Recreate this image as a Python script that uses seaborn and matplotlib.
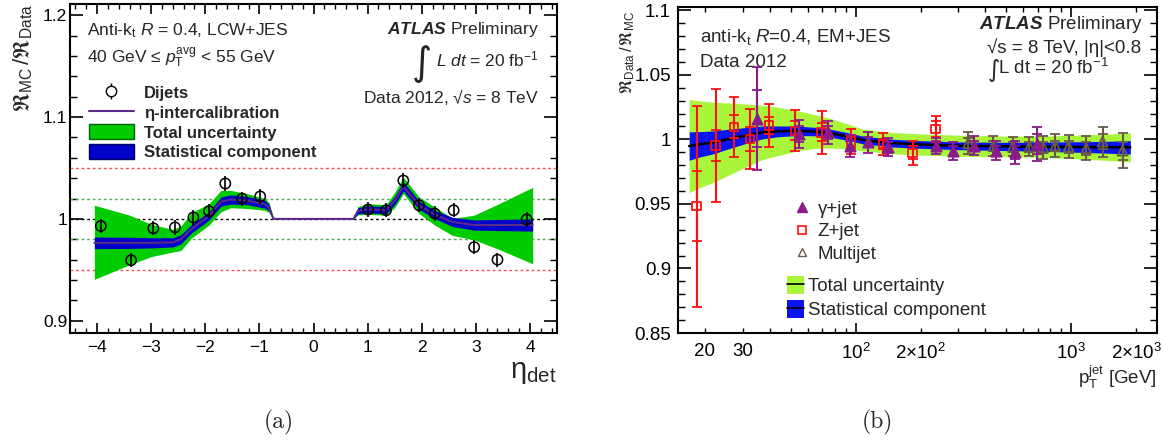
import numpy as np
import pandas as pd
import matplotlib
matplotlib.use('Agg')
import matplotlib.pyplot as plt
import seaborn as sns
from matplotlib.lines import Line2D
from matplotlib.patches import Patch
from matplotlib.legend_handler import HandlerTuple
from matplotlib.ticker import MultipleLocator

# ---------------- Panel (a) data ----------------
eta_curve = [-4.05, -3.4, -3.0, -2.6, -2.45, -2.26, -1.93, -1.71, -1.53, -1.22, -0.9, -0.82, -0.74,
             0.74, 0.82, 1.0, 1.34, 1.5, 1.66, 1.95, 2.24, 2.57, 2.97, 3.43, 4.05]
intercal = [0.9765, 0.9765, 0.9765, 0.977, 0.980, 0.990, 1.003, 1.017, 1.019, 1.018, 1.0145, 1.011, 1.0,
            1.0, 1.008, 1.0095, 1.0085, 1.018, 1.032, 1.0134, 1.0044, 0.997, 0.994, 0.994, 0.994]
tot_hi_a = [1.0134, 1.0037, 0.9947, 0.9898, 0.993, 1.006, 1.015, 1.028, 1.028, 1.0248, 1.020, 1.016, 1.0,
            1.0, 1.012, 1.015, 1.014, 1.026, 1.041, 1.0215, 1.0118, 1.0005, 1.0037, 1.015, 1.031]
tot_lo_a = [0.9406, 0.955, 0.963, 0.9675, 0.969, 0.981, 0.994, 1.007, 1.011, 1.0102, 1.0085, 1.006, 1.0,
            1.0, 1.004, 1.0044, 1.0037, 1.011, 1.0248, 1.0053, 0.994, 0.9837, 0.9795, 0.970, 0.956]
stat_a = [0.0057, 0.0055, 0.005, 0.0045, 0.0045, 0.004, 0.004, 0.0045, 0.0045, 0.004, 0.004, 0.003, 0.0,
          0.0, 0.003, 0.0035, 0.0035, 0.004, 0.0045, 0.004, 0.004, 0.0045, 0.005, 0.0055, 0.006]

dijet_eta = [-3.93, -3.37, -2.96, -2.56, -2.22, -1.93, -1.63, -1.32, -0.985,
             1.01, 1.34, 1.66, 1.95, 2.24, 2.59, 2.97, 3.40, 3.94]
dijet_val = [0.993, 0.9594, 0.9908, 0.9917, 1.0015, 1.0076, 1.0348, 1.0199, 1.0221,
             1.0092, 1.0085, 1.0377, 1.0134, 1.0053, 1.0085, 0.9723, 0.960, 0.9995]
dijet_err = [0.007] * 18

# ---------------- Panel (b) data ----------------
pt_band = [16.9, 19, 22, 25, 30, 37, 44, 54, 65, 76, 90, 108, 150, 200, 300, 500, 700, 1000, 1400, 1880]
band_center = [0.9948, 0.9962, 0.9977, 0.9998, 1.0025, 1.0054, 1.0062, 1.0066, 1.0060, 1.0048, 1.0025,
               0.9995, 0.9970, 0.9960, 0.9950, 0.9945, 0.9943, 0.9941, 0.9939, 0.9938]
band_tot = [0.036, 0.0335, 0.031, 0.0285, 0.025, 0.021, 0.0186, 0.0155, 0.013, 0.0115, 0.0098, 0.0085,
            0.0082, 0.0082, 0.0082, 0.0080, 0.0082, 0.0090, 0.0100, 0.0113]
band_stat = [0.011, 0.0098, 0.0088, 0.0078, 0.0064, 0.005, 0.0042, 0.0036, 0.0033, 0.0031, 0.003, 0.003,
             0.003, 0.003, 0.003, 0.0032, 0.0035, 0.004, 0.0045, 0.0052]

zjet_pt = [18.3, 22.4, 27.3, 32.3, 39.7, 52.3, 69.5, 95.1, 134.4, 184, 235]
zjet_val = [0.9482, 0.9951, 1.0097, 1.0002, 1.0105, 1.0066, 1.0054, 0.9985, 0.9964, 0.9895, 1.0079]
zjet_stat = [0.027, 0.012, 0.009, 0.009, 0.0065, 0.0075, 0.007, 0.005, 0.004, 0.005, 0.006]
zjet_tot = [0.078, 0.044, 0.023, 0.023, 0.0165, 0.016, 0.0165, 0.0096, 0.0085, 0.0095, 0.010]

gjet_pt = [34.9, 54.6, 74.6, 94, 114.4, 141.7, 236, 284, 354, 448, 550, 693]
gjet_val = [1.016, 1.0041, 1.0054, 0.995, 0.9977, 0.9938, 0.995, 0.9908, 0.995, 0.9912, 0.990, 0.9964]
gjet_stat = [0.022, 0.006, 0.005, 0.004, 0.004, 0.004, 0.004, 0.004, 0.004, 0.004, 0.005, 0.008]
gjet_tot = [0.040, 0.011, 0.009, 0.0085, 0.008, 0.007, 0.006, 0.007, 0.0073, 0.0073, 0.009, 0.013]

mj_pt = [333, 436, 536, 640, 742, 843, 972, 1174, 1398, 1730]
mj_val = [0.9972, 0.995, 0.9943, 0.9943, 0.9938, 0.995, 0.9943, 0.9931, 0.9982, 0.9912]
mj_stat = [0.004, 0.004, 0.004, 0.004, 0.004, 0.004, 0.0045, 0.005, 0.006, 0.007]
mj_tot = [0.0083, 0.0077, 0.0073, 0.0073, 0.0087, 0.009, 0.009, 0.0092, 0.0115, 0.0135]

# ---------------- style ----------------
sns.set_theme(style='ticks')
plt.rcParams['font.family'] = ['Liberation Sans', 'DejaVu Sans']
plt.rcParams['mathtext.fontset'] = 'custom'
plt.rcParams['mathtext.rm'] = 'Liberation Sans'
plt.rcParams['mathtext.it'] = 'Liberation Sans:italic'
plt.rcParams['mathtext.bf'] = 'Liberation Sans:bold'
plt.rcParams['mathtext.bfit'] = 'Liberation Sans:italic:bold'
plt.rcParams['mathtext.fallback'] = 'stix'
plt.rcParams['axes.linewidth'] = 1.5
plt.rcParams['axes.edgecolor'] = 'black'

GREEN_A = '#00cc00'
BLUE_A = '#0000c8'
PURPLE_LINE = '#5a2a8c'
GREEN_B = '#a8f53a'
BLUE_B = '#0a14f0'
GJET_C = '#8b1a8b'
ZJET_C = '#ff1010'
MJ_C = '#6b5a48'

fig = plt.figure(figsize=(11.64, 4.42), dpi=100)
axA = fig.add_axes([70 / 1164, 1 - 333 / 442, 487 / 1164, 329 / 442])
axB = fig.add_axes([678 / 1164, 1 - 333 / 442, 479 / 1164, 326 / 442])

# ================= Panel (a) =================
ax = axA
ea = np.array(eta_curve)
ca = np.array(intercal)
sa = np.array(stat_a)
ax.fill_between(ea, tot_lo_a, tot_hi_a, color=GREEN_A, lw=0, zorder=2)
ax.fill_between(ea, ca - sa, ca + sa, color=BLUE_A, lw=0, zorder=3)
for yv, c in [(1.05, '#ff4d4d'), (0.95, '#ff4d4d'), (1.02, '#4caf50'), (0.98, '#4caf50'), (1.0, 'black')]:
    ax.axhline(yv, color=c, lw=1.0, ls=(0, (2, 2)), zorder=1)
sns.lineplot(x=eta_curve, y=intercal, ax=ax, color=PURPLE_LINE, lw=1.5, zorder=4, sort=False)
ax.errorbar(dijet_eta, dijet_val, yerr=dijet_err, fmt='none', ecolor='black', elinewidth=1.2, zorder=5)
sns.scatterplot(x=dijet_eta, y=dijet_val, ax=ax, marker='o', s=55, facecolor='none',
                edgecolor='black', linewidth=1.1, zorder=6)

ax.set_xlim(-4.5, 4.5)
ax.set_ylim(0.888, 1.211)
ax.set_xticks([-4, -3, -2, -1, 0, 1, 2, 3, 4],
              labels=['\u22124', '\u22123', '\u22122', '\u22121', '0', '1', '2', '3', '4'])
ax.set_yticks([0.9, 1.0, 1.1, 1.2], labels=['0.9', '1', '1.1', '1.2'])
ax.xaxis.set_minor_locator(MultipleLocator(0.2))
ax.yaxis.set_minor_locator(MultipleLocator(0.02))
ax.tick_params(which='both', direction='in', top=True, right=True, color='black', labelcolor='black')
ax.tick_params(axis='y', which='major', length=9.5, width=1.2, labelsize=12.5, pad=2)
ax.tick_params(axis='y', which='minor', length=5, width=1.0)
ax.tick_params(axis='x', which='major', length=7, width=1.2, labelsize=12.5, pad=5)
ax.tick_params(axis='x', which='minor', length=3.5, width=1.0)
ax.set_ylabel(r'$\Re_{\rm MC}\,/\Re_{\rm Data}$', fontsize=16, loc='top')
ax.yaxis.set_label_coords(-0.072, 1.0)
ax.set_xlabel('\u03b7$_{\\rm det}$', fontsize=21, loc='right')
ax.xaxis.set_label_coords(1.0, -0.075)

ax.text(0.035, 0.906, 'Anti-k$_{\\rm t}$ $R$ = 0.4, LCW+JES', transform=ax.transAxes, fontsize=12.5, va='baseline')
ax.text(0.035, 0.82, '40 GeV \u2264 $p_{\\rm T}^{\\rm avg}$ < 55 GeV', transform=ax.transAxes, fontsize=12.5, va='baseline')
ax.text(0.9637, 0.9076, r'$\mathbfit{ATLAS}$ Preliminary', transform=ax.transAxes, fontsize=12.5, va='baseline', ha='right')
ax.text(0.9637, 0.8094, r'$L$ $dt$ = 20 fb$^{-1}$', transform=ax.transAxes, fontsize=12.5, va='baseline', ha='right')
ax.text(0.722, 0.785, '\u222b', transform=ax.transAxes, fontsize=28, va='baseline', ha='center', family='DejaVu Sans')
ax.text(0.9637, 0.698, 'Data 2012, \u221a$s$ = 8 TeV', transform=ax.transAxes, fontsize=12.5, va='baseline', ha='right')

hA = [
    (Line2D([0], [0], color='black', lw=1.2, marker='|', markersize=11, linestyle='none'),
     Line2D([0], [0], marker='o', markersize=7.5, markerfacecolor='white', markeredgecolor='black', linestyle='none')),
    Line2D([0], [0], color=PURPLE_LINE, lw=1.5),
    Patch(facecolor=GREEN_A, edgecolor='#006400', lw=1.0),
    Patch(facecolor=BLUE_A, edgecolor='#000060', lw=1.0),
]
labA = ['Dijets', '\u03b7-intercalibration', 'Total uncertainty', 'Statistical component']
legA = ax.legend(hA, labA, loc='upper left', bbox_to_anchor=(0.015, 0.79), frameon=False,
                 handler_map={tuple: HandlerTuple(ndivide=1)}, prop={'weight': 'bold', 'size': 12},
                 handlelength=2.7, handleheight=1.0, labelspacing=0.22, handletextpad=0.6, borderpad=0.2)

# ================= Panel (b) =================
ax = axB
pb = np.array(pt_band)
cb = np.array(band_center)
tb = np.array(band_tot)
sb = np.array(band_stat)
ax.fill_between(pb, cb - tb, cb + tb, color=GREEN_B, lw=0, zorder=2)
ax.fill_between(pb, cb - sb, cb + sb, color=BLUE_B, lw=0, zorder=3)
sns.lineplot(x=pt_band, y=band_center, ax=ax, color='black', lw=1.8, zorder=4)

def draw_points(pts, vals, stat, tot, color, marker, face, size, z):
    ax.errorbar(pts, vals, yerr=tot, fmt='none', ecolor=color, elinewidth=1.5, capsize=3.5, capthick=1.3, zorder=z)
    ax.errorbar(pts, vals, yerr=stat, fmt='none', ecolor=color, elinewidth=1.5, capsize=3.5, capthick=1.3, zorder=z)
    sns.scatterplot(x=pts, y=vals, ax=ax, marker=marker, s=size, facecolor=face, edgecolor=color,
                    linewidth=1.3, zorder=z + 0.5)

draw_points(mj_pt, mj_val, mj_stat, mj_tot, MJ_C, '^', 'none', 50, 5)
draw_points(zjet_pt, zjet_val, zjet_stat, zjet_tot, ZJET_C, 's', 'none', 38, 6)
draw_points(gjet_pt, gjet_val, gjet_stat, gjet_tot, GJET_C, '^', GJET_C, 55, 7)

ax.set_xscale('log')
ax.set_xlim(15, 2500)
ax.set_ylim(0.852, 1.1025)
ax.set_xticks([100, 1000], labels=['10$^{2}$', '10$^{3}$'])
minor_pos = [20, 30, 40, 50, 60, 70, 80, 90, 200, 300, 400, 500, 600, 700, 800, 900, 2000]
minor_lab = ['20', '30', '', '', '', '', '', '', '2\u00d710$^{2}$', '', '', '', '', '', '', '', '2\u00d710$^{3}$']
ax.set_xticks(minor_pos, labels=minor_lab, minor=True)
ax.set_yticks([0.85, 0.9, 0.95, 1.0, 1.05, 1.1], labels=['0.85', '0.9', '0.95', '1', '1.05', '1.1'])
ax.yaxis.set_minor_locator(MultipleLocator(0.01))
ax.tick_params(which='both', direction='in', top=True, right=True, color='black', labelcolor='black')
ax.tick_params(axis='y', which='major', length=9.5, width=1.2, labelsize=13.5, pad=5)
ax.tick_params(axis='y', which='minor', length=5, width=1.0)
ax.tick_params(axis='x', which='major', length=7, width=1.2, labelsize=13.5, pad=7)
ax.tick_params(axis='x', which='minor', length=3.5, width=1.0, labelsize=13.5, pad=7)
ax.set_ylabel(r'$\Re_{\rm Data}\,/\,\Re_{\rm MC}$', fontsize=12, loc='top')
ax.yaxis.set_label_coords(-0.085, 0.99)
ax.set_xlabel(r'$\mathrm{p}_{\mathrm{T}}^{\mathrm{jet}}$ [GeV]', fontsize=13.5, loc='right')
ax.xaxis.set_label_coords(1.0, -0.095)

ax.text(0.046, 0.8936, 'anti-k$_{\\rm t}$ $R$=0.4, EM+JES', transform=ax.transAxes, fontsize=13.5, va='baseline')
ax.text(0.046, 0.8169, 'Data 2012', transform=ax.transAxes, fontsize=13.5, va='baseline')
ax.text(0.9714, 0.9316, r'$\mathbfit{ATLAS}$ Preliminary', transform=ax.transAxes, fontsize=13.5, va='baseline', ha='right')
ax.text(0.6457, 0.858, '\u221as = 8 TeV, |\u03b7|<0.8', transform=ax.transAxes, fontsize=13.5, va='baseline')
ax.text(0.6457, 0.785, '\u222b', transform=ax.transAxes, fontsize=17, va='baseline', ha='left', family='DejaVu Sans')
ax.text(0.668, 0.7945, 'L dt = 20 fb$^{-1}$', transform=ax.transAxes, fontsize=13.5, va='baseline')

hB1 = [Line2D([0], [0], marker='^', markersize=7, color=GJET_C, markerfacecolor=GJET_C, linestyle='none'),
       Line2D([0], [0], marker='s', markersize=6, color=ZJET_C, markerfacecolor='none', markeredgewidth=1.2, linestyle='none'),
       Line2D([0], [0], marker='^', markersize=6, color=MJ_C, markerfacecolor='none', markeredgewidth=1.0, linestyle='none')]
legB1 = ax.legend(hB1, ['\u03b3+jet', 'Z+jet', 'Multijet'], loc='upper left', bbox_to_anchor=(0.215, 0.447),
                  frameon=False, fontsize=13.5, handlelength=0.8, labelspacing=0.3, handletextpad=0.45, borderpad=0.2)
ax.add_artist(legB1)
hB2 = [(Patch(facecolor=GREEN_B, edgecolor='none'), Line2D([0], [0], color='black', lw=1.2)),
       (Patch(facecolor=BLUE_B, edgecolor='none'), Line2D([0], [0], color='black', lw=1.2))]
ax.legend(hB2, ['Total uncertainty', 'Statistical component'], loc='upper left', bbox_to_anchor=(0.2, 0.215),
          frameon=False, fontsize=13.5, handler_map={tuple: HandlerTuple(ndivide=1)},
          handlelength=0.9, handleheight=1.1, labelspacing=0.25, handletextpad=0.2, borderpad=0.2)

fig.text(279 / 1164, 1 - 422 / 442, '(a)', fontsize=17, family='cmr10', ha='center', va='center')
fig.text(877 / 1164, 1 - 422 / 442, '(b)', fontsize=17, family='cmr10', ha='center', va='center')

fig.savefig('out.png', dpi=100)
